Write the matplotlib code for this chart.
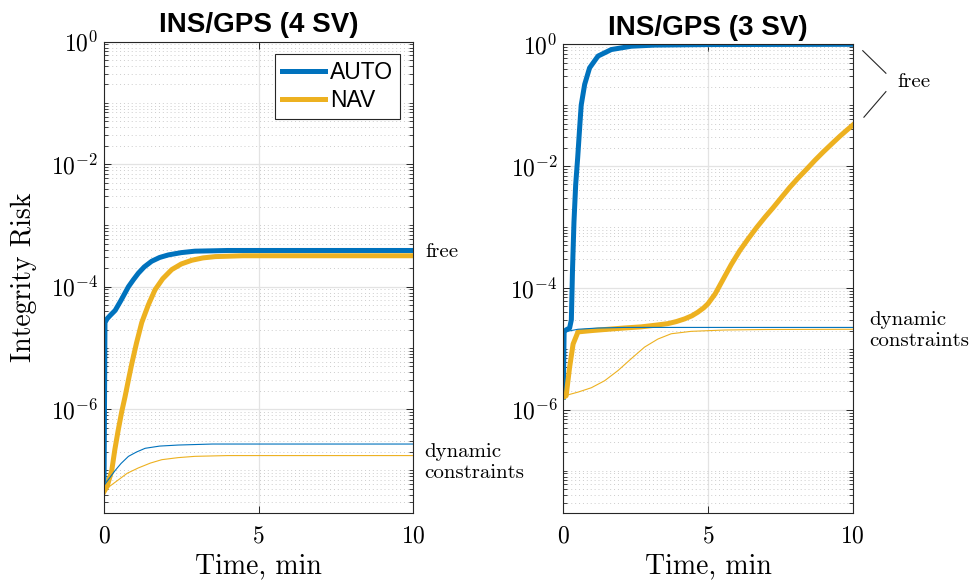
import numpy as np
import matplotlib
matplotlib.use('Agg')
import matplotlib.pyplot as plt
from matplotlib.ticker import LogLocator, NullFormatter
from matplotlib.transforms import blended_transform_factory

plt.rcParams['font.family'] = 'serif'
plt.rcParams['font.serif'] = ['cmr10']
plt.rcParams['mathtext.fontset'] = 'cm'
plt.rcParams['axes.formatter.use_mathtext'] = True

BLUE = '#0072BD'
YELLOW = '#EDB120'

# --- INS/GPS (4 SV) ---
t4_auto_free = [0, 0.03, 0.1, 0.2, 0.36, 0.55, 0.79, 0.95, 1.11, 1.3, 1.54, 1.8, 2.08, 2.5, 2.94, 3.5, 4.0, 10]
r4_auto_free = [5.5e-8, 2.6e-5, 3.0e-5, 3.4e-5, 4.1e-5, 6.0e-5, 1.0e-4, 1.3e-4, 1.66e-4, 2.1e-4, 2.6e-4,
                3.0e-4, 3.3e-4, 3.6e-4, 3.8e-4, 3.85e-4, 3.9e-4, 3.9e-4]
t4_nav_free = [0, 0.1, 0.25, 0.35, 0.46, 0.57, 0.68, 0.8, 0.9, 1.05, 1.22, 1.43, 1.65, 1.9, 2.19, 2.5, 2.84,
               3.2, 3.6, 4.5, 10]
r4_nav_free = [4.5e-8, 5.5e-8, 1.0e-7, 2.2e-7, 4.6e-7, 9.0e-7, 1.6e-6, 3.2e-6, 5.6e-6, 1.2e-5, 2.6e-5, 5.0e-5,
               8.9e-5, 1.35e-4, 1.9e-4, 2.35e-4, 2.7e-4, 2.95e-4, 3.1e-4, 3.2e-4, 3.2e-4]
t4_auto_dyn = [0, 0.15, 0.36, 0.55, 0.79, 1.05, 1.33, 1.8, 2.4, 3.5, 10]
r4_auto_dyn = [5.7e-8, 7.2e-8, 1.0e-7, 1.3e-7, 1.7e-7, 2.0e-7, 2.3e-7, 2.5e-7, 2.6e-7, 2.7e-7, 2.7e-7]
t4_nav_dyn = [0, 0.2, 0.46, 0.75, 1.11, 1.5, 1.87, 2.4, 2.94, 4.0, 10]
r4_nav_dyn = [4.6e-8, 5.6e-8, 7.0e-8, 9.0e-8, 1.1e-7, 1.32e-7, 1.5e-7, 1.62e-7, 1.7e-7, 1.75e-7, 1.75e-7]

# --- INS/GPS (3 SV) ---
t3_auto_free = [0, 0.03, 0.1, 0.22, 0.28, 0.32, 0.37, 0.43, 0.5, 0.57, 0.62, 0.74, 0.91, 1.2, 1.66, 2.35,
                3.16, 5, 10]
r3_auto_free = [1.6e-6, 1.9e-5, 2.05e-5, 2.2e-5, 3e-5, 2e-4, 1.2e-3, 5e-3, 0.014, 0.045, 0.10, 0.22, 0.41,
                0.64, 0.82, 0.93, 0.97, 0.99, 1.0]
t3_nav_free = [0, 0.1, 0.22, 0.34, 0.51, 1.0, 1.55, 2.1, 2.7, 3.2, 3.62, 3.9, 4.19, 4.45, 4.65, 4.85, 5.0,
               5.25, 5.53, 5.8, 6.1, 6.4, 6.68, 6.97, 7.26, 7.55, 7.83, 8.12, 8.41, 8.7, 8.98, 9.27, 9.56,
               9.8, 10]
r3_nav_free = [1.6e-6, 1.7e-6, 5e-6, 1.2e-5, 1.9e-5, 2.0e-5, 2.1e-5, 2.2e-5, 2.3e-5, 2.45e-5, 2.6e-5, 2.8e-5,
               3.1e-5, 3.5e-5, 4.0e-5, 4.7e-5, 5.5e-5, 8e-5, 1.4e-4, 2.4e-4, 4.1e-4, 6.5e-4, 9.8e-4, 1.45e-3,
               2.1e-3, 3.1e-3, 4.5e-3, 6.4e-3, 8.9e-3, 1.25e-2, 0.017, 0.023, 0.031, 0.039, 0.047]
t3_auto_dyn = [0, 0.04, 0.51, 1.2, 2.1, 10]
r3_auto_dyn = [1.7e-6, 1.9e-5, 2.1e-5, 2.2e-5, 2.25e-5, 2.25e-5]
t3_nav_dyn = [0, 0.05, 0.51, 0.97, 1.43, 1.89, 2.35, 2.81, 3.27, 3.73, 4.42, 5.58, 7.0, 10]
r3_nav_dyn = [1.65e-6, 1.7e-6, 1.95e-6, 2.3e-6, 3.0e-6, 4.4e-6, 6.9e-6, 1.07e-5, 1.45e-5, 1.77e-5, 1.94e-5,
              2.04e-5, 2.08e-5, 2.1e-5]

x_ticks = [0, 5, 10]
y_ticks = [1e-6, 1e-4, 1e-2, 1e0]
y_ticklabels = ['$10^{-6}$', '$10^{-4}$', '$10^{-2}$', '$10^{0}$']

fig = plt.figure(figsize=(9.76, 5.86), dpi=100)
ax1 = fig.add_axes([0.1066, 0.1241, 0.3166, 0.8048])
ax2 = fig.add_axes([0.5771, 0.1241, 0.2965, 0.8003])


def style(ax, title):
    ax.set_yscale('log')
    ax.set_xlim(0, 10)
    ax.set_ylim(2e-8, 1)
    ax.set_xticks(x_ticks)
    ax.set_yticks(y_ticks)
    ax.set_yticklabels(y_ticklabels)
    ax.yaxis.set_minor_locator(LogLocator(base=10, subs=np.arange(1, 10), numticks=20))
    ax.yaxis.set_minor_formatter(NullFormatter())
    ax.grid(True, which='major', color='#e3e3e3', lw=0.9)
    ax.grid(True, which='minor', axis='y', color='#cccccc', lw=0.7, ls=(0, (1, 3)))
    ax.set_axisbelow(True)
    ax.tick_params(which='both', direction='in', top=True, right=True, color='#262626')
    ax.tick_params(which='major', length=5, width=0.7)
    ax.tick_params(which='minor', length=3, width=0.6)
    ax.tick_params(axis='x', labelsize=17, pad=9)
    ax.tick_params(axis='y', labelsize=17, pad=4)
    for s in ax.spines.values():
        s.set_color('#262626')
        s.set_linewidth(0.8)
    ax.set_xlabel('Time, min', fontsize=20, labelpad=4)
    ax.set_title(title, fontsize=20, fontweight='bold', family='Liberation Sans', pad=7)


thick = dict(lw=3.6, solid_joinstyle='round')
thin = dict(lw=0.8, solid_joinstyle='round')

l1, = ax1.plot(t4_auto_free, r4_auto_free, color=BLUE, label='AUTO', **thick)
l2, = ax1.plot(t4_nav_free, r4_nav_free, color=YELLOW, label='NAV', **thick)
ax1.plot(t4_auto_dyn, r4_auto_dyn, color=BLUE, **thin)
ax1.plot(t4_nav_dyn, r4_nav_dyn, color=YELLOW, **thin)
style(ax1, 'INS/GPS (4 SV)')
ax1.set_ylabel('Integrity Risk', fontsize=20, labelpad=10)
leg = ax1.legend(handles=[l1, l2], loc='upper right', fancybox=False, framealpha=1,
                 edgecolor='#262626', prop={'family': 'Liberation Sans', 'size': 16.5},
                 handlelength=1.85, handletextpad=0.25, borderpad=0.3, labelspacing=0.2,
                 borderaxespad=0.55)
leg.get_frame().set_linewidth(0.8)

ax2.plot(t3_auto_free, r3_auto_free, color=BLUE, **thick)
ax2.plot(t3_nav_free, r3_nav_free, color=YELLOW, **thick)
ax2.plot(t3_auto_dyn, r3_auto_dyn, color=BLUE, **thin)
ax2.plot(t3_nav_dyn, r3_nav_dyn, color=YELLOW, **thin)
style(ax2, 'INS/GPS (3 SV)')

# annotations
tr1 = blended_transform_factory(ax1.transAxes, ax1.transData)
tr2 = blended_transform_factory(ax2.transAxes, ax2.transData)
ax1.text(1.04, 3.7e-4, 'free', transform=tr1, fontsize=15, va='center', ha='left')
ax1.text(1.037, 1.35e-7, 'dynamic\nconstraints', transform=tr1, fontsize=15,
         va='center', ha='left', linespacing=1.25)
ax2.text(1.155, 0.24, 'free', transform=tr2, fontsize=15, va='center', ha='left')
ax2.plot([1.035, 1.115], [0.785, 0.335], transform=tr2, color='#262626', lw=0.8, clip_on=False)
ax2.plot([1.115, 1.039], [0.167, 0.0636], transform=tr2, color='#262626', lw=0.8, clip_on=False)
ax2.text(1.056, 2.0e-5, 'dynamic\nconstraints', transform=tr2, fontsize=15,
         va='center', ha='left', linespacing=1.25)

fig.savefig('out.png', dpi=100)
